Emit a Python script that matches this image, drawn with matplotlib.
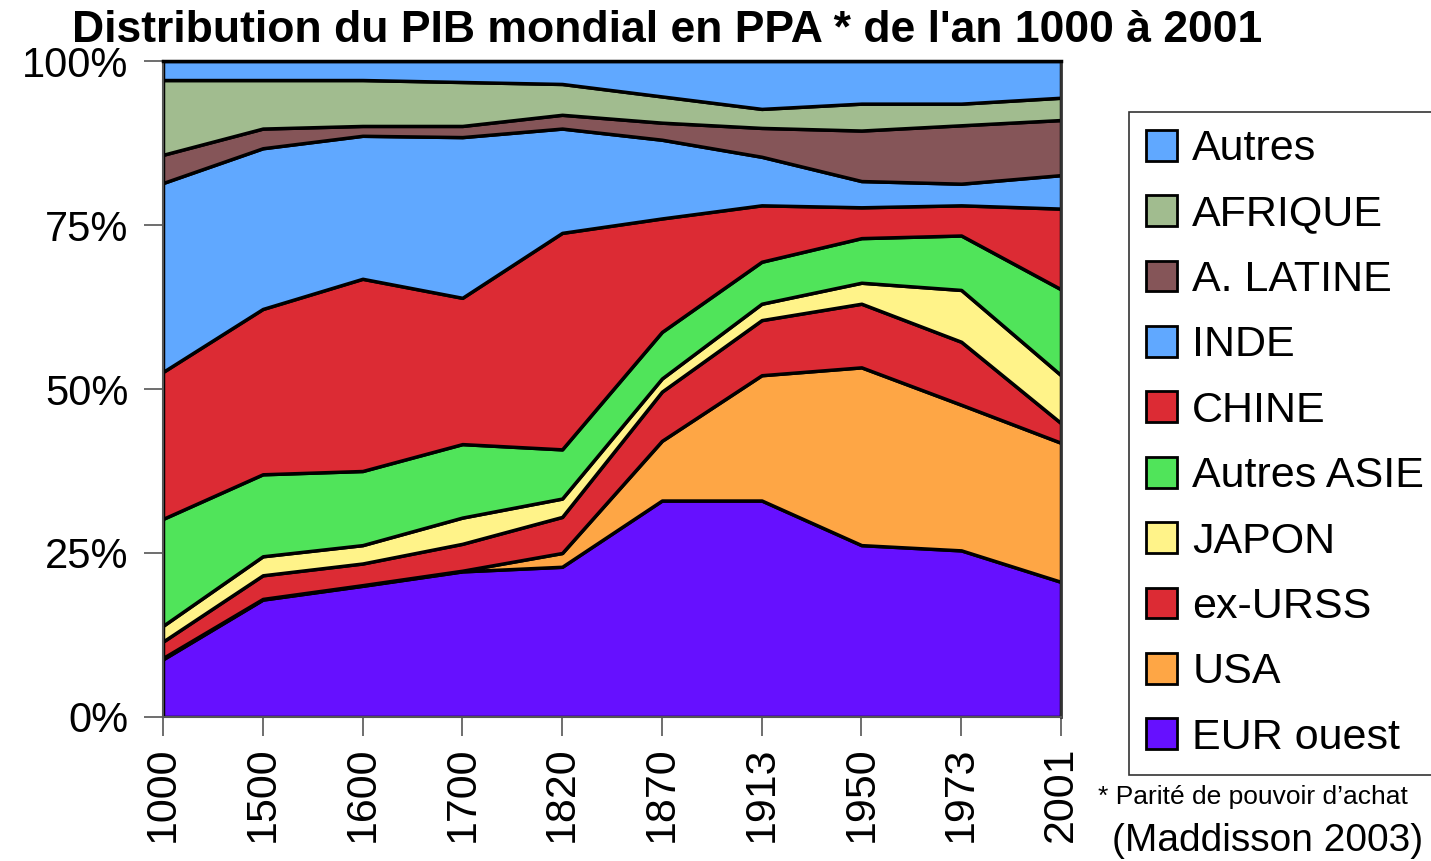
import matplotlib.pyplot as plt
import numpy as np
from matplotlib.patches import Patch
from matplotlib.ticker import FixedLocator

plt.rcParams["font.family"] = ["Liberation Sans", "DejaVu Sans"]

# Years (categorical axis)
years = ["1000", "1500", "1600", "1700", "1820", "1870", "1913", "1950", "1973", "2001"]

# Share of world GDP (%), bottom to top of the stack
eur_ouest = [8.8, 17.9, 20.0, 22.2, 22.9, 33.0, 33.0, 26.2, 25.4, 20.6]
usa = [0.2, 0.1, 0.1, 0.1, 2.1, 9.1, 19.1, 27.1, 22.2, 21.2]
ex_urss = [2.5, 3.6, 3.3, 4.1, 5.5, 7.5, 8.4, 9.7, 9.6, 3.0]
japon = [2.4, 2.9, 2.8, 4.0, 2.8, 2.0, 2.5, 3.2, 7.9, 7.3]
autres_asie = [16.3, 12.5, 11.3, 11.2, 7.5, 7.1, 6.4, 6.8, 8.3, 13.1]
chine = [22.4, 25.2, 29.3, 22.3, 33.0, 17.3, 8.6, 4.7, 4.6, 12.3]
inde = [28.8, 24.5, 21.8, 24.5, 15.9, 12.0, 7.4, 4.0, 3.3, 5.1]
a_latine = [4.3, 3.0, 1.5, 1.7, 2.1, 2.6, 4.4, 7.7, 8.9, 8.4]
afrique = [11.4, 7.4, 7.0, 6.7, 4.7, 4.0, 2.9, 4.1, 3.3, 3.4]
autres = [2.9, 2.9, 2.9, 3.2, 3.5, 5.4, 7.3, 6.5, 6.5, 5.6]

series = [eur_ouest, usa, ex_urss, japon, autres_asie, chine, inde, a_latine, afrique, autres]
labels = ["EUR ouest", "USA", "ex-URSS", "JAPON", "Autres ASIE",
          "CHINE", "INDE", "A. LATINE", "AFRIQUE", "Autres"]
colors = ["#6610FF", "#FEA645", "#DC2B34", "#FFF389", "#50E45A",
          "#DC2B34", "#60A8FF", "#855558", "#A1BC8F", "#60A8FF"]

fig = plt.figure(figsize=(14.31, 8.61), dpi=100)
ax = fig.add_axes([163 / 1431, 1 - 717 / 861, (1061 - 163) / 1431, (717 - 61) / 861])

x = np.arange(len(years))
ax.stackplot(x, *series, colors=colors, edgecolor="black", linewidth=2.5)

ax.set_xlim(0, len(years) - 1)
ax.set_ylim(0, 100)
ax.set_xticks(x)
ax.set_xticklabels(years, rotation=90, fontsize=31)
ax.yaxis.set_major_locator(FixedLocator([0, 25, 50, 75, 100]))
ax.set_yticklabels(["0%", "25%", "50%", "75%", "100%"], fontsize=30)
ax.tick_params(axis="x", length=14, width=1.2, color="#555555", pad=7)
ax.tick_params(axis="y", length=14, width=1.2, color="#555555", pad=11)

for side in ["left", "bottom"]:
    ax.spines[side].set_color("#555555")
    ax.spines[side].set_linewidth(1.5)
ax.spines["top"].set_linewidth(2.5)
ax.spines["right"].set_color("#333333")
ax.spines["right"].set_linewidth(2)

fig.text(72 / 1431, 1 - 30 / 861, "Distribution du PIB mondial en PPA * de l'an 1000 à 2001",
         fontsize=32, fontweight="bold", va="center", ha="left")

# legend, top entry first
handles = [Patch(facecolor=c, edgecolor="black", linewidth=2) for c in colors[::-1]]
leg = fig.legend(handles, labels[::-1], loc="upper left",
                 bbox_to_anchor=(1129 / 1431, 1 - 112 / 861), fontsize=31,
                 frameon=True, fancybox=False, borderaxespad=0, borderpad=0.4,
                 handlelength=0.72, handleheight=0.72, handletextpad=0.35,
                 labelspacing=0.59)
leg.get_frame().set_edgecolor("black")
leg.get_frame().set_linewidth(1.2)

fig.text(1098 / 1431, 1 - 797 / 861, "* Parité de pouvoir d’achat", fontsize=19,
         va="center", ha="left")
fig.text(1112 / 1431, 1 - 841 / 861, "(Maddisson 2003)", fontsize=28,
         va="center", ha="left")

fig.savefig("out.png", dpi=100)
